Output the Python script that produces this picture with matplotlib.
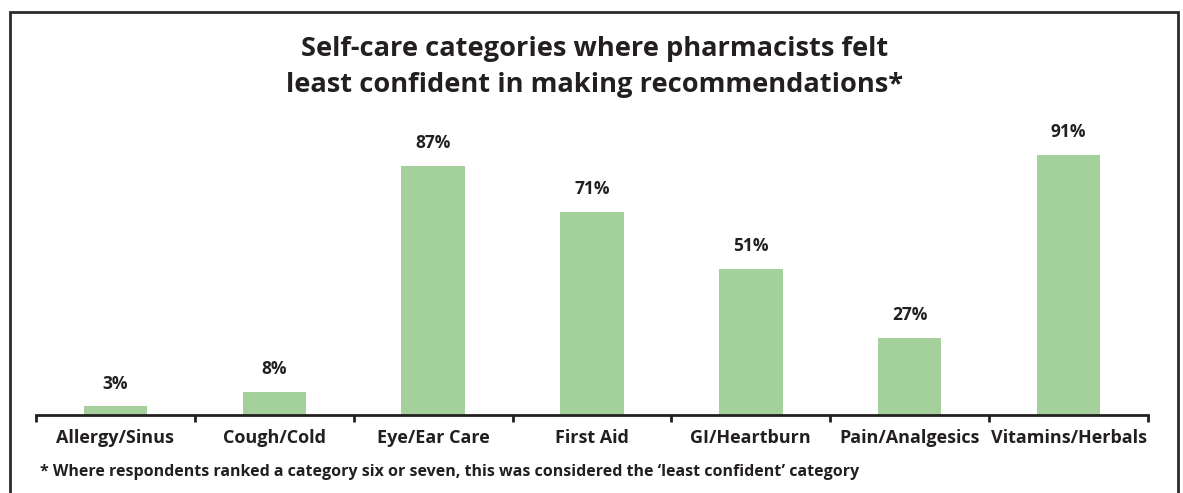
import numpy as np
import matplotlib.pyplot as plt
from matplotlib.patches import Rectangle

categories = ['Allergy/Sinus', 'Cough/Cold', 'Eye/Ear Care', 'First Aid',
              'GI/Heartburn', 'Pain/Analgesics', 'Vitamins/Herbals']
values = [3, 8, 87, 71, 51, 27, 91]

title = ('Self-care categories where pharmacists felt\n'
         'least confident in making recommendations*')
footnote = ('* Where respondents ranked a category six or seven, '
            'this was considered the \u2018least confident\u2019 category')

plt.rcParams['font.family'] = ['Open Sans', 'DejaVu Sans']
text_color = '#231f20'
bar_color = '#a3d09b'

W, H = 1183, 493
fig = plt.figure(figsize=(W / 100, H / 100), dpi=100)

# outer frame, bottom edge runs off the picture
fig.patches.append(Rectangle((10 / W, -0.05), 1168 / W, 1.05 - 12 / H,
                             transform=fig.transFigure, fill=False,
                             edgecolor='#2b2b2b', linewidth=2))

ax = fig.add_axes([36 / W, 1 - 415 / H, 1112 / W, 286 / H])
x = np.arange(len(categories))
ax.bar(x, values, width=0.4, color=bar_color)
ax.set_xlim(-0.5, len(categories) - 0.5)
ax.set_ylim(0, 100)

for xi, v in zip(x, values):
    ax.annotate(f'{v}%', (xi, v), xytext=(0, 10), textcoords='offset points',
                ha='center', va='bottom', fontsize=12.5, fontweight='bold',
                color=text_color)

for s in ['top', 'right', 'left']:
    ax.spines[s].set_visible(False)
ax.spines['bottom'].set_linewidth(2)
ax.spines['bottom'].set_color(text_color)
ax.set_yticks([])
ax.set_xticks(np.arange(len(categories) + 1) - 0.5)
ax.set_xticklabels([])
ax.tick_params(axis='x', direction='out', length=5, width=2, color=text_color)
ax.set_xticks(x, minor=True)
ax.set_xticklabels(categories, minor=True, fontsize=13, fontweight='bold',
                   color=text_color)
ax.tick_params(axis='x', which='minor', length=0, pad=10)

fig.text(595 / W, 1 - 67 / H, title, ha='center', va='center', fontsize=19.6,
         fontweight='bold', color=text_color, linespacing=1.45)
fig.text(40 / W, 1 - 472 / H, footnote, ha='left', va='center', fontsize=11.5,
         fontweight='bold', color=text_color)

fig.savefig('out.png', dpi=100)
